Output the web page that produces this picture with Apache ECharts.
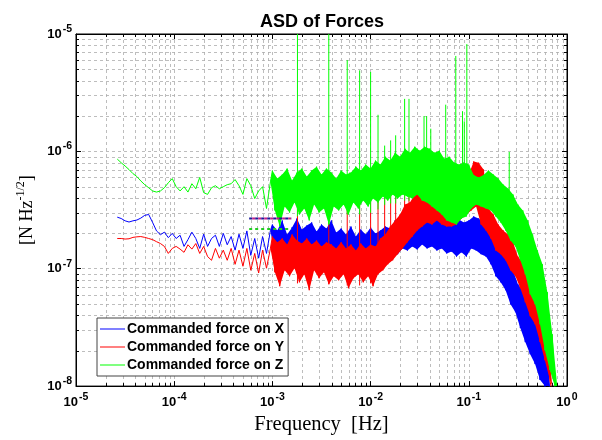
<!DOCTYPE html>
<html><head><meta charset="utf-8">
<script src="https://cdn.jsdelivr.net/npm/echarts@6/dist/echarts.min.js"></script>
<style>html,body{margin:0;padding:0;background:#fff}#c{width:602px;height:440px}</style>
</head><body><div id="c"></div>
<script>
// frequency grid, log10(f / Hz)
const freqExp = [
 -4.58,-4.54,-4.5,-4.46,-4.42,-4.38,-4.34,-4.3,-4.26,-4.22,-4.18,-4.14,-4.1,-4.06,-4.02,-3.98,-3.94,-3.9,-3.86,-3.82,
 -3.78,-3.74,-3.7,-3.66,-3.62,-3.58,-3.54,-3.5,-3.46,-3.42,-3.38,-3.34,-3.3,-3.26,-3.22,-3.18,-3.14,-3.1,-3.06,-3.02,
 -3,-2.975,-2.95,-2.925,-2.9,-2.875,-2.85,-2.825,-2.8,-2.775,-2.75,-2.725,-2.7,-2.675,-2.65,-2.625,-2.6,-2.575,-2.55,-2.525,
 -2.5,-2.475,-2.45,-2.425,-2.4,-2.375,-2.35,-2.325,-2.3,-2.275,-2.25,-2.225,-2.2,-2.175,-2.15,-2.125,-2.1,-2.075,-2.05,-2.025,
 -2,-1.975,-1.95,-1.925,-1.9,-1.875,-1.85,-1.825,-1.8,-1.775,-1.75,-1.725,-1.7,-1.675,-1.65,-1.625,-1.6,-1.575,-1.55,-1.525,
 -1.5,-1.475,-1.45,-1.425,-1.4,-1.375,-1.35,-1.325,-1.3,-1.275,-1.25,-1.225,-1.2,-1.175,-1.15,-1.125,-1.1,-1.075,-1.05,-1.025,
 -1,-0.975,-0.95,-0.925,-0.9,-0.875,-0.85,-0.825,-0.8,-0.775,-0.75,-0.725,-0.7,-0.675,-0.65,-0.625,-0.6,-0.575,-0.55,-0.525,
 -0.5,-0.475,-0.45,-0.425,-0.4,-0.375,-0.35,-0.325,-0.3,-0.275,-0.25,-0.225,-0.2,-0.175,-0.15,-0.125,-0.1
];
// ASD values in units of 1e-7 N Hz^-1/2 (from index 40 on: alternating band top / band bottom)
const asdX = [
 2.75,2.68,2.56,2.5,2.56,2.6,2.7,2.85,2.9,2.48,2.1,1.95,2.05,1.84,2.0,1.81,1.93,1.55,1.77,2.05,
 1.81,1.49,1.97,1.55,1.81,1.93,1.55,2.0,1.6,1.88,1.44,1.97,1.49,2.1,1.3,1.81,1.23,1.88,1.35,2.12,
 2.38,1.27,2.12,1.18,2.58,1.35,1.96,1.09,2.25,1.49,
 2.68,1.18,2.16,1.01,2.33,1.33,2.48,1.18,2.08,1.27,
 2.38,1.05,2.20,1.35,2.58,1.13,2.04,1.23,2.20,1.05,
 1.96,1.18,2.29,1.09,1.88,1.27,2.16,1.13,1.96,1.23,
 2.25,1.09,2.0,1.25,2.12,1.18,2.29,1.27,2.20,1.38,
 2.58,1.33,2.48,1.49,2.90,1.43,2.79,1.55,3.14,1.46,
 3.01,1.61,3.39,1.49,3.52,1.55,3.26,1.43,3.46,1.49,
 3.01,1.35,2.90,1.40,2.58,1.27,2.63,1.38,2.48,1.27,
 2.58,1.49,2.79,1.43,2.68,1.33,2.48,1.27,2.12,1.09,
 1.96,0.862,1.61,0.766,1.33,0.656,1.18,0.498,0.969,0.426,
 0.737,0.312,0.656,0.237,0.560,0.187,0.443,0.154,0.343,0.113,
 0.256,0.0927,0.166,0.0876,null,null,null
];
const asdY = [
 1.81,1.81,1.79,1.8,1.85,1.87,1.88,1.85,1.81,1.77,1.7,1.64,1.55,1.35,1.49,1.55,1.47,1.38,1.6,1.47,
 1.64,1.35,1.55,1.27,1.18,1.49,1.23,1.44,1.18,1.49,1.09,1.44,1.05,1.49,0.97,1.35,0.92,1.44,1.01,1.49,
 1.88,0.932,1.68,0.709,1.81,0.969,1.61,0.862,1.96,1.01,
 1.74,0.766,1.64,0.896,1.81,0.656,1.61,0.969,1.74,0.829,
 1.55,0.932,1.68,0.737,1.61,0.862,1.49,0.797,1.68,0.896,
 1.49,0.682,1.61,0.829,1.43,0.896,1.64,0.766,1.49,0.862,
 1.61,0.709,1.55,0.896,1.81,0.969,1.96,1.09,2.29,1.18,
 2.58,1.33,2.90,1.49,3.52,1.68,3.67,1.88,4.29,2.12,
 4.46,2.29,5.01,2.48,5.21,2.38,4.82,2.58,5.21,2.38,
 4.46,2.29,4.64,2.29,4.12,2.38,4.37,2.68,5.21,2.90,
 6.34,3.14,8.2,3.39,8.0,2.38,7.0,2.12,3.26,1.81,
 2.90,1.43,2.38,1.33,2.12,1.18,1.96,0.969,1.68,0.862,
 1.27,0.682,1.13,0.518,0.969,0.394,0.737,0.336,0.518,0.237,
 0.394,0.166,0.276,0.113,0.0876,null,null
];
const asdZ = [
 8.6,8.0,7.5,7.0,6.46,6.1,5.6,5.2,4.9,4.6,4.5,4.6,4.9,5.4,5.86,5.0,4.6,5.0,4.5,5.3,
 4.8,6.0,4.45,4.3,4.9,5.1,4.8,5.0,5.2,5.3,5.75,5.1,4.3,5.86,5.1,3.96,4.6,5.0,3.26,5.5,
 6.86,3.14,5.86,2.29,6.34,3.39,7.13,3.01,5.64,3.67,
 6.59,2.90,7.13,3.26,6.10,2.58,6.86,3.52,7.41,3.01,
 6.34,3.26,7.13,2.38,6.59,3.39,5.86,3.14,6.86,3.52,
 6.34,2.90,6.59,3.67,7.41,3.26,6.86,3.81,7.71,3.39,
 7.13,3.96,8.34,3.67,7.71,4.12,9.01,3.81,8.34,4.29,
 9.75,3.96,9.01,4.29,10.54,4.12,9.75,3.96,10.96,4.29,
 10.14,3.81,10.96,3.67,10.54,3.39,9.75,3.14,10.14,2.90,
 8.67,2.58,9.01,2.48,8.02,2.38,7.71,2.68,8.02,2.79,
 7.71,3.26,6.3,3.52,6.0,3.39,6.3,3.26,6.86,3.14,
 6.34,2.79,5.86,2.48,5.21,2.12,4.82,1.74,4.29,1.55,
 3.52,1.18,3.14,0.896,2.58,0.606,1.96,0.498,1.43,0.336,
 1.09,0.202,0.631,0.137,0.276,0.1,0.0876
];
// narrow spectral lines (Hz, units of 1e-7)
const spikeFreq  = [1.80e-3,3.75e-3,5.78e-3,7.73e-3,1.0e-2,1.19e-2,1.39e-2,1.6e-2,1.8e-2,2.22e-2,2.46e-2,3.5e-2,3.72e-2,4.1e-2,5.82e-2,7.37e-2,8.63e-2,9.0e-2,9.55e-2,0.258];
const spikeBaseZ = [2.8,2.8,2.9,2.9,3.0,3.2,3.5,3.6,3.6,3.8,3.8,4.0,4.0,4.0,4.5,4.5,4.5,4.5,4.5,3.5];
const spikeTopZ  = [100,100,60,49,47.5,20.5,11.2,12.4,13.7,28,28,20,20,15.6,25,65,22,18,82,9.9];
const spikeBaseY = [0.75,0.75,0.72,0.72,0.75,1.5,1.8,2.0,2.4,3.0,3.2,3.5,3.5,3.5];
const spikeTopY  = [4.5,4.5,4.5,4.5,4.5,5.0,5.0,5.0,5.0,6.0,6.0,7.0,7.0,7.0];
// horizontal reference segments
const refFreq = [5.8e-4, 1.56e-3];
const refXY = 2.68;
const refZ = 2.18;
const UNIT = 1e-7;
const BAND_START = 40;
const names = ['Commanded force on X','Commanded force on Y','Commanded force on Z'];
const colors = ['#0000ff','#ff0000','#00ff00'];

const freq = freqExp.map(e => Math.pow(10, e));
const pts = arr => freq.map((f, i) => [f, arr[i] == null ? '-' : arr[i] * UNIT]);
const spikes = (base, top) => base.map((b, i) => [spikeFreq[i], b * UNIT, top[i] * UNIT]);

// minor grid positions (axis decoration)
const minorX = [], minorY = [];
for (let d = -5; d < 0; d++) for (let m = 2; m <= 9; m++) minorX.push([m * Math.pow(10, d), 1e-7]);
for (let d = -8; d < -5; d++) for (let m = 2; m <= 9; m++) minorY.push([1e-3, m * Math.pow(10, d)]);

const GRID_COLOR = '#acacac';
const gridLine = {type: [3, 3], color: GRID_COLOR, width: 0.8};
const supFmt = v => '{b|10}{s|' + Math.round(Math.log10(v)) + '}';
const labelRich = {
  b: {fontSize: 13, fontWeight: 'bold', fontFamily: 'Liberation Sans', color: '#000'},
  s: {fontSize: 10.5, fontWeight: 'bold', fontFamily: 'Liberation Sans', color: '#000', padding: [0, 0, 10, 1]}
};

const minorRender = vertical => (params, api) => {
  const cs = params.coordSys;
  const p = api.coord([api.value(0), api.value(1)]);
  const els = [];
  if (vertical) {
    const x = Math.round(p[0]) + 0.5;
    els.push({type: 'line', shape: {x1: x, y1: cs.y, x2: x, y2: cs.y + cs.height}, style: {stroke: GRID_COLOR, lineWidth: 0.8, lineDash: [3, 3]}});
    els.push({type: 'line', shape: {x1: x, y1: cs.y + cs.height, x2: x, y2: cs.y + cs.height - 3}, style: {stroke: '#000', lineWidth: 1}});
    els.push({type: 'line', shape: {x1: x, y1: cs.y, x2: x, y2: cs.y + 3}, style: {stroke: '#000', lineWidth: 1}});
  } else {
    const y = Math.round(p[1]) + 0.5;
    els.push({type: 'line', shape: {x1: cs.x, y1: y, x2: cs.x + cs.width, y2: y}, style: {stroke: GRID_COLOR, lineWidth: 0.8, lineDash: [3, 3]}});
    els.push({type: 'line', shape: {x1: cs.x, y1: y, x2: cs.x + 3, y2: y}, style: {stroke: '#000', lineWidth: 1}});
    els.push({type: 'line', shape: {x1: cs.x + cs.width, y1: y, x2: cs.x + cs.width - 3, y2: y}, style: {stroke: '#000', lineWidth: 1}});
  }
  return {type: 'group', children: els};
};

const bandRender = (arr, color) => (params, api) => {
  const cs = params.coordSys;
  const yb = cs.y + cs.height;
  const up = [], lo = [];
  for (let i = BAND_START - 1; i < arr.length; i++) {
    if (arr[i] == null) continue;
    const p = api.coord([freq[i], arr[i] * UNIT]);
    p[1] = Math.min(p[1], yb);
    if (i === BAND_START - 1) { up.push(p); lo.push(p); }
    else (i % 2 === 0 ? up : lo).push(p);
  }
  return {type: 'polygon', shape: {points: up.concat(lo.reverse())}, style: {fill: color}};
};

const spikeRender = color => (params, api) => {
  const p1 = api.coord([api.value(0), api.value(1)]);
  const p2 = api.coord([api.value(0), api.value(2)]);
  return {type: 'line', shape: {x1: p1[0], y1: p1[1], x2: p2[0], y2: p2[1]},
          style: {stroke: color, lineWidth: 1}};
};

const lineSeries = (k, arr, z) => ({type: 'line', name: names[k], data: pts(arr), showSymbol: false, symbol: 'none',
  connectNulls: false, z: z, lineStyle: {color: colors[k], width: 1}, itemStyle: {color: colors[k]}});
const bandSeries = (k, arr, z) => ({type: 'custom', name: 'band' + k, data: [[1e-3, 1e-7]], silent: true, z: z,
  renderItem: bandRender(arr, colors[k])});

const chart = echarts.init(document.getElementById('c'), null, {renderer: 'canvas'});
chart.setOption({
  animation: false,
  backgroundColor: '#fff',
  title: {text: 'ASD of Forces', left: 317, top: 8, textAlign: 'center',
    textStyle: {fontSize: 18, fontWeight: 'bold', fontFamily: 'Liberation Sans', color: '#000'}},
  grid: {left: 76, right: 35, top: 34, bottom: 52, show: true, borderColor: '#000', borderWidth: 1, backgroundColor: 'transparent'},
  legend: {data: names, orient: 'vertical', left: 97, top: 318, itemWidth: 25, itemHeight: 1, icon: 'rect', z: 20,
    itemGap: 4, padding: [4, 4, 4, 3], backgroundColor: '#fff', borderColor: '#444', borderWidth: 1,
    textStyle: {fontSize: 14, fontWeight: 'bold', fontFamily: 'Liberation Sans', color: '#000', padding: [0,0,0,-3]}},
  xAxis: [{type: 'log', logBase: 10, min: 1e-5, max: 1, position: 'bottom',
    name: 'Frequency  [Hz]', nameLocation: 'middle', nameGap: 19,
    nameTextStyle: {fontSize: 20.5, fontFamily: 'Liberation Serif', color: '#000'},
    axisLine: {lineStyle: {color: '#000'}}, axisTick: {inside: true, length: 5, lineStyle: {color: '#000'}},
    axisLabel: {formatter: supFmt, rich: labelRich, margin: 6},
    splitLine: {show: true, lineStyle: gridLine}},
   {type: 'log', logBase: 10, min: 1e-5, max: 1, position: 'top',
    axisLine: {lineStyle: {color: '#000'}}, axisTick: {inside: true, length: 5, lineStyle: {color: '#000'}},
    axisLabel: {show: false}, splitLine: {show: false}}],
  yAxis: [{type: 'log', logBase: 10, min: 1e-8, max: 1e-5, position: 'left',
    name: '[N Hz{sup|-1/2}]', nameLocation: 'middle', nameGap: 36, nameRotate: 90,
    nameTextStyle: {fontSize: 18, fontFamily: 'Liberation Serif', color: '#000',
      rich: {sup: {fontSize: 12, fontFamily: 'Liberation Serif', color: '#000', padding: [0, 0, 12, 0]}}},
    axisLine: {lineStyle: {color: '#000'}}, axisTick: {inside: true, length: 5, lineStyle: {color: '#000'}},
    axisLabel: {formatter: supFmt, rich: labelRich, margin: 4},
    splitLine: {show: true, lineStyle: gridLine}},
   {type: 'log', logBase: 10, min: 1e-8, max: 1e-5, position: 'right',
    axisLine: {lineStyle: {color: '#000'}}, axisTick: {inside: true, length: 5, lineStyle: {color: '#000'}},
    axisLabel: {show: false}, splitLine: {show: false}}],
  series: [
    {type: 'custom', name: 'minorX', data: minorX, renderItem: minorRender(true), silent: true, z: 1},
    {type: 'custom', name: 'minorY', data: minorY, renderItem: minorRender(false), silent: true, z: 1},
    bandSeries(0, asdX, 2), lineSeries(0, asdX, 3),
    bandSeries(1, asdY, 4), lineSeries(1, asdY, 5),
    {type: 'custom', name: 'spY', data: spikes(spikeBaseY, spikeTopY), renderItem: spikeRender(colors[1]),
     encode: {x: 0, y: [1, 2]}, silent: true, z: 6},
    bandSeries(2, asdZ, 7), lineSeries(2, asdZ, 8),
    {type: 'custom', name: 'spZ', data: spikes(spikeBaseZ, spikeTopZ), renderItem: spikeRender(colors[2]),
     encode: {x: 0, y: [1, 2]}, silent: true, z: 9},
    {type: 'line', name: 'refX', data: refFreq.map(f => [f, refXY * UNIT]), symbol: 'none', silent: true, z: 10,
     lineStyle: {color: '#1a1a9a', width: 2, type: [3, 3]}},
    {type: 'line', name: 'refY', data: refFreq.map(f => [f, refXY * UNIT]), symbol: 'none', silent: true, z: 10,
     lineStyle: {color: '#c0208a', width: 2, type: [3, 3], dashOffset: 3}},
    {type: 'line', name: 'refZ', data: refFreq.map(f => [f, refZ * UNIT]), symbol: 'none', silent: true, z: 10,
     lineStyle: {color: '#22cc22', width: 2, type: [3, 3]}}
  ]
});
</script></body></html>
